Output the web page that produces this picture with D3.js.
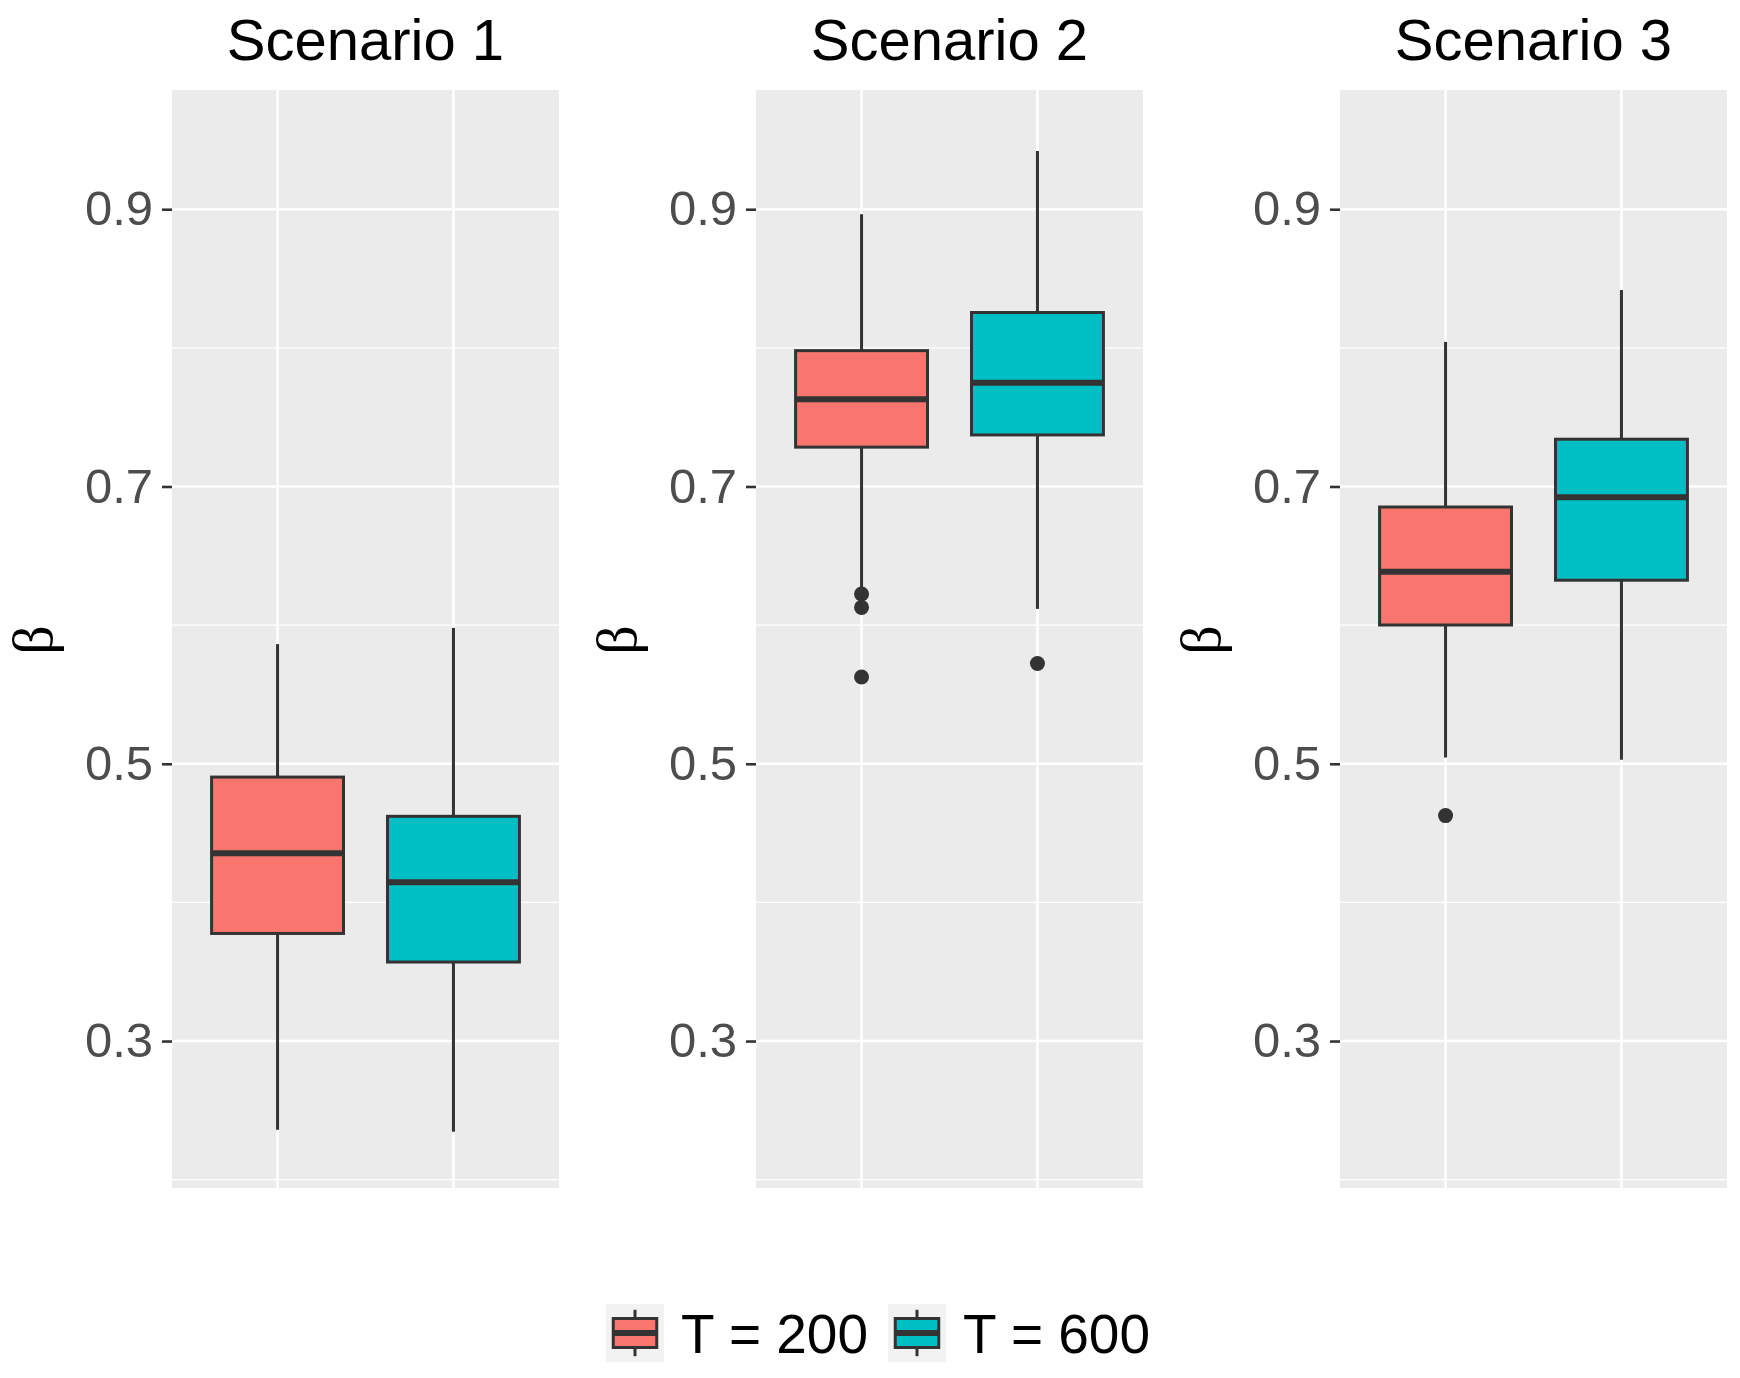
<!DOCTYPE html>
<html>
<head>
<meta charset="utf-8">
<script src="https://cdn.jsdelivr.net/npm/d3@7"></script>
<style>
  body { margin: 0; background: #ffffff; }
  svg { display: block; }
  .tick text { font-family: "Liberation Sans", Arial, sans-serif; }
</style>
</head>
<body>
<div id="chart"></div>
<script>
// ---- data ----
const scenarios = ["Scenario 1", "Scenario 2", "Scenario 3"];
const groups = ["T = 200", "T = 600"];

// box statistics, [scenario][group]
const lowerWhisker = [[0.236, 0.2346], [0.626, 0.6117], [0.5045, 0.5029]];
const q1 = [[0.3776, 0.357], [0.7284, 0.7372], [0.6001, 0.6324]];
const median = [[0.4355, 0.4146], [0.763, 0.7748], [0.6385, 0.6923]];
const q3 = [[0.4904, 0.4621], [0.798, 0.8255], [0.6852, 0.7341]];
const upperWhisker = [[0.5863, 0.598], [0.8964, 0.942], [0.8043, 0.8417]];
const outliers = [[[], []], [[0.6225, 0.6128, 0.5626], [0.5723]], [[0.4626], []]];

const yTicks = [0.3, 0.5, 0.7, 0.9];
const yMinorTicks = [0.2, 0.4, 0.6, 0.8];
const yLabel = "\u03B2";

// ---- layout ----
const W = 1740, H = 1378;
const panel = {left: 172, step: 584, width: 387, top: 90, bottom: 1188};
const fills = ["#F8766D", "#00BFC4"];
const ink = "#333333";

const svg = d3.select("#chart").append("svg")
    .attr("width", W)
    .attr("height", H);

// shared y scale (ggplot expansion folded into domain)
const y = d3.scaleLinear()
    .domain([0.194, 0.986])
    .range([panel.bottom, panel.top]);

// discrete x: two levels with 0.6 expansion on each side
const x = d3.scaleLinear()
    .domain([0.4, 2.6])
    .range([0, panel.width]);
const boxW = x(0.75) - x(0);

scenarios.forEach((name, i) => {
    const g = svg.append("g")
        .attr("transform", `translate(${panel.left + i * panel.step},0)`);

    // panel background
    g.append("rect")
        .attr("x", 0).attr("y", panel.top)
        .attr("width", panel.width).attr("height", panel.bottom - panel.top)
        .attr("fill", "#ebebeb");

    // minor grid
    g.selectAll(".minor").data(yMinorTicks).join("line")
        .attr("x1", 0).attr("x2", panel.width)
        .attr("y1", d => y(d)).attr("y2", d => y(d))
        .attr("stroke", "#ffffff").attr("stroke-width", 1.3);

    // major grid
    g.selectAll(".major").data(yTicks).join("line")
        .attr("x1", 0).attr("x2", panel.width)
        .attr("y1", d => y(d)).attr("y2", d => y(d))
        .attr("stroke", "#ffffff").attr("stroke-width", 2.6);

    g.selectAll(".vgrid").data(groups).join("line")
        .attr("x1", (d, j) => x(j + 1)).attr("x2", (d, j) => x(j + 1))
        .attr("y1", panel.top).attr("y2", panel.bottom)
        .attr("stroke", "#ffffff").attr("stroke-width", 2.6);

    // y axis
    const yAxis = d3.axisLeft(y)
        .tickValues(yTicks)
        .tickSize(10)
        .tickPadding(9)
        .tickFormat(d3.format(".1f"));

    const ax = g.append("g").call(yAxis);
    ax.select(".domain").remove();
    ax.selectAll(".tick line").attr("stroke", ink).attr("stroke-width", 2.6);
    ax.selectAll(".tick text")
        .attr("fill", "#4d4d4d")
        .style("font-size", "49px");

    // panel title
    g.append("text")
        .attr("x", panel.width / 2).attr("y", 60)
        .attr("text-anchor", "middle")
        .style("font-family", "'Liberation Sans', Arial, sans-serif")
        .style("font-size", "58px")
        .attr("fill", "#000000")
        .text(name);

    // y label
    g.append("text")
        .attr("transform", `translate(${52 - panel.left},${(panel.top + panel.bottom) / 2 + 1}) rotate(-90)`)
        .attr("text-anchor", "middle")
        .style("font-family", "'Liberation Serif', 'DejaVu Serif', serif")
        .style("font-size", "58px")
        .attr("fill", "#000000")
        .text(yLabel);

    // boxplots
    groups.forEach((grp, j) => {
        const cx = x(j + 1);
        const b = g.append("g");

        b.append("line")
            .attr("x1", cx).attr("x2", cx)
            .attr("y1", y(upperWhisker[i][j])).attr("y2", y(q3[i][j]))
            .attr("stroke", ink).attr("stroke-width", 3);
        b.append("line")
            .attr("x1", cx).attr("x2", cx)
            .attr("y1", y(q1[i][j])).attr("y2", y(lowerWhisker[i][j]))
            .attr("stroke", ink).attr("stroke-width", 3);

        b.append("rect")
            .attr("x", cx - boxW / 2).attr("y", y(q3[i][j]))
            .attr("width", boxW).attr("height", y(q1[i][j]) - y(q3[i][j]))
            .attr("fill", fills[j])
            .attr("stroke", ink).attr("stroke-width", 3);

        b.append("line")
            .attr("x1", cx - boxW / 2).attr("x2", cx + boxW / 2)
            .attr("y1", y(median[i][j])).attr("y2", y(median[i][j]))
            .attr("stroke", ink).attr("stroke-width", 6);

        b.selectAll("circle").data(outliers[i][j]).join("circle")
            .attr("cx", cx).attr("cy", d => y(d))
            .attr("r", 7.5)
            .attr("fill", ink);
    });
});

// ---- legend ----
const keySize = 58;
const legendKeys = [606, 888];
const legendTop = 1304;
const k = d3.scaleLinear().domain([0, 1]).range([0, keySize]);

groups.forEach((grp, j) => {
    const lg = svg.append("g")
        .attr("transform", `translate(${legendKeys[j]},${legendTop})`);
    lg.append("rect")
        .attr("width", keySize).attr("height", keySize)
        .attr("fill", "#f2f2f2");
    lg.append("line")
        .attr("x1", k(0.5)).attr("x2", k(0.5))
        .attr("y1", k(0.1)).attr("y2", k(0.9))
        .attr("stroke", ink).attr("stroke-width", 3);
    lg.append("rect")
        .attr("x", k(0.125)).attr("y", k(0.25))
        .attr("width", k(0.75)).attr("height", k(0.5))
        .attr("fill", fills[j])
        .attr("stroke", ink).attr("stroke-width", 3);
    lg.append("line")
        .attr("x1", k(0.125)).attr("x2", k(0.875))
        .attr("y1", k(0.5)).attr("y2", k(0.5))
        .attr("stroke", ink).attr("stroke-width", 6);
    lg.append("text")
        .attr("x", keySize + 17).attr("y", 49)
        .style("font-family", "'Liberation Sans', Arial, sans-serif")
        .style("font-size", "55px")
        .attr("fill", "#000000")
        .text(grp);
});
</script>
</body>
</html>
